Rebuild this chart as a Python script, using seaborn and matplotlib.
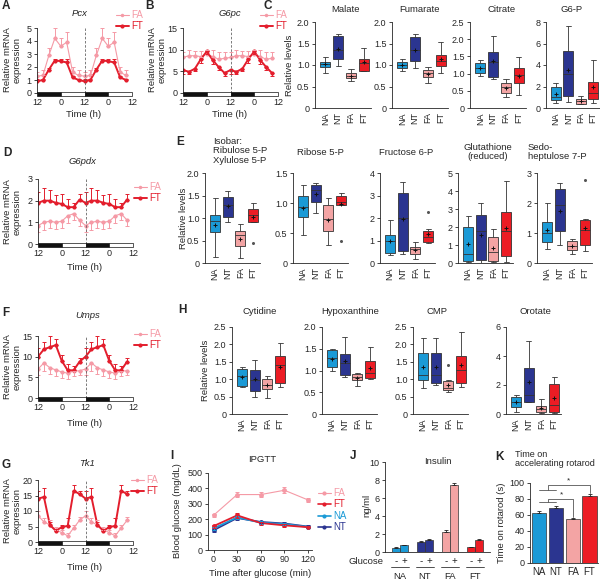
import numpy as np
import pandas as pd
import matplotlib
matplotlib.use("Agg")
import matplotlib.pyplot as plt
import seaborn as sns
from matplotlib.lines import Line2D
from matplotlib.patches import Rectangle
from matplotlib.ticker import FuncFormatter
from matplotlib.transforms import blended_transform_factory

sns.set_style("ticks")
plt.rcParams["font.family"] = ["Liberation Sans", "DejaVu Sans"]
plt.rcParams.update({
    "font.size": 6.5, "axes.linewidth": 0.6,
    "xtick.major.width": 0.6, "ytick.major.width": 0.6,
    "xtick.major.size": 2, "ytick.major.size": 2.5,
    "xtick.major.pad": 1.5, "ytick.major.pad": 1.5,
    "xtick.labelsize": 6.5, "ytick.labelsize": 6.5,
})

W, H = 600, 580
fig = plt.figure(figsize=(W / 100, H / 100), dpi=100)

NA_C, NT_C, FA_C, FT_C = "#1b9ad6", "#2b3590", "#f3a4a4", "#ec1c24"
FA_LINE, FT_LINE = "#f59aa6", "#e31e2d"
groups = ["NA", "NT", "FA", "FT"]
box_pal = dict(zip(groups, [NA_C, NT_C, FA_C, FT_C]))

# ---- circadian expression (A, B, D, F, G) ----
time_h = [0, 3, 6, 9, 12, 15, 18, 21, 24, 27, 30, 33, 36, 39, 42, 45]

pcx_fa = [1.3, 1.35, 2.9, 4.2, 3.6, 3.9, 1.6, 1.35]
pcx_fa_err = [0.3, 0.4, 0.6, 0.8, 0.6, 0.8, 0.4, 0.4]
pcx_ft = [0.9, 1.0, 1.8, 2.5, 2.45, 2.35, 1.2, 1.0]
pcx_ft_err = [0.15, 0.1, 0.15, 0.1, 0.2, 0.25, 0.1, 0.1]

g6pc_fa = [8.2, 8.6, 8.6, 8.4, 9.0, 8.4, 7.8, 8.0]
g6pc_fa_err = [1.3, 1.3, 1.2, 1.2, 1.0, 1.5, 1.6, 1.5]
g6pc_ft = [5.3, 4.9, 5.6, 7.8, 9.6, 7.6, 6.0, 4.6]
g6pc_ft_err = [0.8, 0.5, 0.6, 0.8, 0.7, 0.9, 0.8, 0.6]

g6pdx_fa = [0.85, 1.0, 1.05, 1.0, 1.05, 1.3, 1.4, 1.1]
g6pdx_fa_err = [0.3, 0.35, 0.3, 0.3, 0.3, 0.35, 0.3, 0.25]
g6pdx_ft = [1.9, 2.0, 2.0, 1.9, 1.85, 1.7, 1.7, 2.05]
g6pdx_ft_err = [0.5, 0.6, 0.5, 0.35, 0.45, 0.4, 0.2, 0.25]

umps_fa = [7.0, 8.5, 7.3, 6.8, 6.3, 6.0, 6.5, 6.6]
umps_fa_err = [1.5, 2.0, 1.5, 1.5, 1.5, 1.5, 1.2, 1.0]
umps_ft = [10.0, 11.8, 12.3, 12.8, 9.0, 6.7, 6.7, 8.8]
umps_ft_err = [2.0, 1.8, 2.8, 1.5, 1.5, 1.5, 1.0, 0.8]

tk1_fa = [8.5, 6.5, 5.5, 4.0, 3.0, 2.0, 4.5, 7.0]
tk1_fa_err = [1.5, 1.2, 1.5, 1.0, 1.0, 0.8, 1.0, 1.0]
tk1_ft = [14.0, 14.5, 5.5, 3.6, 4.8, 5.2, 16.5, 15.5]
tk1_ft_err = [2.5, 3.0, 1.0, 0.5, 0.8, 2.5, 1.8, 1.0]

# ---- metabolite box plots: one list of samples per group (NA, NT, FA, FT) ----
malate = [[0.81, 0.96, 1.02, 1.08, 1.19], [0.98, 1.13, 1.35, 1.67, 1.73],
          [0.62, 0.69, 0.75, 0.81, 0.90], [0.85, 0.87, 1.05, 1.13, 1.40]]
fumarate = [[0.85, 0.94, 1.00, 1.08, 1.15], [0.92, 1.09, 1.35, 1.65, 1.73],
            [0.59, 0.71, 0.81, 0.88, 0.96], [0.82, 0.98, 1.09, 1.23, 1.54]]
citrate = [[0.93, 1.03, 1.17, 1.30, 1.39], [0.84, 0.91, 1.35, 1.63, 2.09],
           [0.32, 0.45, 0.61, 0.74, 0.84], [0.38, 0.72, 0.96, 1.15, 1.49]]
g6p = [[0.46, 0.77, 0.98, 1.94, 2.37], [0.52, 1.08, 3.2, 5.3, 7.6],
       [0.37, 0.40, 0.62, 0.86, 1.14], [0.46, 0.86, 1.38, 2.46, 4.46]]

isobar = [[0.14, 0.68, 0.93, 1.07, 1.44], [0.92, 1.02, 1.30, 1.46, 1.61],
          [0.11, 0.38, 0.63, 0.72, 0.87],
          [0.45, 0.91, 0.92, 1.0, 1.06, 1.12, 1.21, 1.28, 1.34]]
ribose = [[0.46, 0.77, 0.94, 1.11, 1.30], [0.84, 1.02, 1.22, 1.30, 1.33],
          [0.30, 0.54, 0.73, 0.97, 1.08],
          [0.37, 0.97, 0.97, 1.0, 1.02, 1.06, 1.11, 1.13, 1.16]]
fructose = [[0.36, 0.45, 0.99, 1.25, 1.93], [0.40, 0.55, 2.0, 3.1, 3.62],
            [0.18, 0.40, 0.62, 0.69, 0.92],
            [0.87, 0.9, 0.95, 1.05, 1.14, 1.3, 1.44, 1.5, 2.27]]
glutathione = [[0.05, 0.1, 0.5, 2.0, 2.6], [0.02, 0.15, 1.77, 2.65, 3.31],
               [0.05, 0.1, 0.6, 1.47, 1.9], [0.05, 0.4, 1.8, 2.84, 4.53]]
sedo = [[0.46, 0.69, 0.99, 1.36, 2.0], [0.61, 1.08, 1.93, 2.46, 2.66],
        [0.3, 0.43, 0.58, 0.74, 0.8],
        [0.4, 0.5, 0.6, 0.9, 1.1, 1.3, 1.45, 1.46, 2.78]]

cytidine = [[0.77, 0.8, 1.1, 1.3, 1.36], [0.5, 0.67, 0.98, 1.27, 1.55],
            [0.46, 0.72, 0.83, 1.0, 1.09], [0.77, 0.9, 1.41, 1.67, 2.04]]
hypoxanthine = [[1.0, 1.08, 1.28, 1.47, 1.49], [0.85, 0.9, 1.17, 1.38, 1.77],
                [0.64, 0.78, 0.86, 0.92, 0.94], [0.8, 0.83, 0.95, 1.22, 1.54]]
cmp = [[0.74, 0.98, 1.12, 1.74, 2.18], [0.83, 0.9, 1.12, 1.75, 2.18],
       [0.62, 0.64, 0.68, 0.7, 0.75, 0.85, 0.95, 0.97, 1.4],
       [0.78, 0.9, 1.26, 1.67, 2.36]]
orotate = [[0.16, 0.5, 0.84, 1.18, 1.29], [0.8, 0.84, 1.29, 3.2, 5.03],
           [0.1, 0.15, 0.34, 0.55, 1.05], [0.1, 0.16, 0.61, 2.1, 2.54]]

# ---- IPGTT ----
ipgtt_min = [0, 30, 60, 90, 120]
ipgtt_fa = [225, 360, 360, 388, 325]
ipgtt_fa_err = [10, 18, 18, 20, 15]
ipgtt_ft = [155, 225, 175, 160, 148]
ipgtt_ft_err = [10, 15, 10, 10, 8]
ipgtt_na = [140, 212, 178, 168, 150]
ipgtt_na_err = [8, 10, 8, 8, 8]
ipgtt_nt = [128, 208, 182, 172, 152]
ipgtt_nt_err = [10, 10, 8, 8, 8]

# ---- insulin ----
ins_minus = [0.5, 1.1, 2.2, 0.55]
ins_minus_err = [0.05, 0.15, 0.2, 0.05]
ins_plus = [0.75, 1.3, 7.4, 1.3]
ins_plus_err = [0.05, 0.1, 0.25, 0.1]

# ---- rotarod ----
rotarod = [62, 69, 55, 84]
rotarod_err = [2.5, 2.0, 1.0, 2.0]


def px_axes(l, t, r, b):
    return fig.add_axes([l / W, 1 - b / H, (r - l) / W, (b - t) / H])


def ftext(x, y, s, **kw):
    kw.setdefault("ha", "center")
    kw.setdefault("va", "center")
    kw.setdefault("fontsize", 6.8)
    fig.text(x / W, 1 - y / H, s, **kw)


def tick_fmt(step):
    def f(v, pos):
        if abs(v) < 1e-9:
            return "0"
        return f"{v:.1f}" if step < 1 else f"{v:g}"
    return FuncFormatter(f)


def circadian(box, fa, fa_err, ft, ft_err, ymax, ystep, fa_up, ft_up, leg_xy):
    ax = px_axes(*box)
    df = pd.DataFrame({
        "time": time_h * 2,
        "value": fa + fa + ft + ft,
        "line": ["FA"] * 16 + ["FT"] * 16,
    })
    sns.lineplot(data=df, x="time", y="value", hue="line", size="line",
                 sizes={"FA": 0.8, "FT": 1.4},
                 palette={"FA": FA_LINE, "FT": FT_LINE},
                 marker="o", markersize=3, markeredgewidth=0,
                 legend=False, errorbar=None, ax=ax)
    for vals, errs, up, col in [(fa, fa_err, fa_up, FA_LINE), (ft, ft_err, ft_up, FT_LINE)]:
        e = np.array(errs + errs)
        z = np.zeros_like(e)
        ax.errorbar(time_h, vals + vals, yerr=[z, e] if up else [e, z], fmt="none",
                    ecolor=col, elinewidth=0.7, capsize=1.5, capthick=0.7)
    ax.axvline(24, color="#666666", ls=(0, (3, 2)), lw=0.6)
    ax.set_xlim(0, 48)
    ax.set_ylim(0, ymax)
    ax.set_yticks(np.arange(0, ymax + 0.01, ystep))
    ax.yaxis.set_major_formatter(tick_fmt(ystep))
    ax.set_xticks([0, 12, 24, 36, 48], ["12", "0", "12", "0", "12"])
    ax.tick_params(axis="x", length=0, pad=3.5)
    ax.set_xlabel("")
    ax.set_ylabel("")
    sns.despine(ax=ax, bottom=True)
    tr = blended_transform_factory(ax.transData, ax.transAxes)
    for x0, c in [(0, "#111111"), (12, "white"), (24, "#111111"), (36, "white")]:
        ax.add_patch(Rectangle((x0, -0.05), 12, 0.07, transform=tr, facecolor=c,
                               edgecolor="#111111", lw=0.5, clip_on=False, zorder=5))
    handles = [Line2D([], [], color=FA_LINE, lw=0.8, marker="o", ms=2.5, mew=0),
               Line2D([], [], color=FT_LINE, lw=1.4, marker="o", ms=3, mew=0)]
    ax.legend(handles, ["FA", "FT"], loc="upper left", frameon=False,
              bbox_to_anchor=(leg_xy[0] / W, 1 - leg_xy[1] / H),
              bbox_transform=fig.transFigure, handlelength=1.3, handletextpad=0.3,
              labelspacing=0.1, borderaxespad=0, borderpad=0, labelcolor="linecolor",
              fontsize=7)
    return ax


def boxpanel(box, samples, ymax, ystep):
    ax = px_axes(*box)
    df = pd.DataFrame({
        "group": [g for g, s in zip(groups, samples) for _ in s],
        "value": [v for s in samples for v in s],
    })
    sns.boxplot(data=df, x="group", y="value", hue="group", order=groups,
                hue_order=groups, palette=box_pal, saturation=1, legend=False,
                width=0.8, linecolor="#333333", linewidth=0.6, whis=1.5,
                showmeans=True,
                meanprops={"marker": "+", "markeredgecolor": "#111111",
                           "markersize": 3.5, "markeredgewidth": 0.7},
                flierprops={"marker": "o", "markerfacecolor": "#555555",
                            "markeredgecolor": "none", "markersize": 2.2},
                ax=ax)
    ax.set_xlim(-0.8, 3.55)
    ax.set_ylim(0, ymax)
    ax.set_yticks(np.arange(0, ymax + 0.001, ystep))
    ax.yaxis.set_major_formatter(tick_fmt(ystep))
    ax.tick_params(axis="x", rotation=90, length=0, pad=3)
    ax.set_xlabel("")
    ax.set_ylabel("")
    sns.despine(ax=ax)
    return ax


# ---- panels A, B, D, F, G ----
circadian((37, 28, 132, 93), pcx_fa, pcx_fa_err, pcx_ft, pcx_ft_err, 5, 1, True, True, (116, 10))
circadian((183, 28, 278, 93), g6pc_fa, g6pc_fa_err, g6pc_ft, g6pc_ft_err, 15, 5, True, False, (260, 10))
circadian((38, 179, 133, 244), g6pdx_fa, g6pdx_fa_err, g6pdx_ft, g6pdx_ft_err, 3, 1, False, True, (134, 182))
circadian((38, 336, 133, 398), umps_fa, umps_fa_err, umps_ft, umps_ft_err, 15, 5, False, True, (134, 329))
circadian((38, 480, 133, 542), tk1_fa, tk1_fa_err, tk1_ft, tk1_ft_err, 20, 5, True, True, (131, 475))

for x, y, name in [(80, 13, "Pcx"), (230, 13, "G6pc"), (82, 162, "G6pdx"),
                   (88, 316, "Umps"), (87, 464, "Tk1")]:
    ftext(x, y, name, style="italic")
for x, y in [(12, 60), (157, 60), (12, 212), (12, 367), (12, 511)]:
    ftext(x, y, "Relative mRNA\nexpression", rotation=90, linespacing=1.1)
for x, y in [(84, 114), (230, 114), (85, 268), (85, 423), (85, 568)]:
    ftext(x, y, "Time (h)")

# ---- panel C ----
boxpanel((315, 22, 371, 108), malate, 2.0, 0.5)
boxpanel((392, 22, 448, 108), fumarate, 2.0, 0.5)
boxpanel((470, 22, 526, 108), citrate, 2.5, 0.5)
boxpanel((546, 22, 600, 108), g6p, 8, 2)
for x, name in [(345, "Malate"), (420, "Fumarate"), (502, "Citrate"), (572, "G6-P")]:
    ftext(x, 10, name)
ftext(290, 65, "Relative levels", rotation=90)

# ---- panel E ----
boxpanel((205, 173, 260, 263), isobar, 2.0, 0.5)
boxpanel((293, 173, 348, 263), ribose, 1.5, 0.5)
boxpanel((380, 173, 435, 263), fructose, 4, 1)
boxpanel((458, 173, 513, 263), glutathione, 5, 1)
boxpanel((537, 173, 592, 263), sedo, 3, 1)
ftext(213, 137, "Isobar:\nRibulose 5-P\nXylulose 5-P", ha="left", va="top", linespacing=1.05)
ftext(320, 152, "Ribose 5-P")
ftext(406, 152, "Fructose 6-P")
ftext(488, 152, "Glutathione\n(reduced)", linespacing=1.1)
ftext(528, 152, "Sedo-\nheptulose 7-P", ha="left", linespacing=1.1)
ftext(183, 218, "Relative levels", rotation=90)

# ---- panel H ----
boxpanel((232, 327, 287, 414), cytidine, 2.5, 0.5)
boxpanel((322, 327, 377, 414), hypoxanthine, 2.0, 0.5)
boxpanel((413, 327, 468, 414), cmp, 2.5, 0.5)
boxpanel((506, 327, 561, 414), orotate, 6, 2)
for x, name in [(260, "Cytidine"), (350, "Hypoxanthine"), (437, "CMP"), (535, "Orotate")]:
    ftext(x, 312, name)
ftext(205, 370, "Relative levels", rotation=90)

# ---- panel I ----
axI = px_axes(208, 473, 312, 550)
gtt = pd.DataFrame({
    "min": ipgtt_min * 4,
    "glucose": ipgtt_fa + ipgtt_ft + ipgtt_na + ipgtt_nt,
    "group": ["FA"] * 5 + ["FT"] * 5 + ["NA"] * 5 + ["NT"] * 5,
})
gtt_pal = {"FA": FA_LINE, "FT": FT_LINE, "NA": NA_C, "NT": NT_C}
sns.lineplot(data=gtt, x="min", y="glucose", hue="group", size="group",
             sizes={"FA": 0.8, "FT": 1.3, "NA": 1.3, "NT": 1.3},
             hue_order=["NT", "NA", "FA", "FT"], palette=gtt_pal,
             marker="o", markersize=3.5, markeredgewidth=0, legend=False,
             errorbar=None, ax=axI)
for vals, errs, g in [(ipgtt_nt, ipgtt_nt_err, "NT"), (ipgtt_na, ipgtt_na_err, "NA"),
                      (ipgtt_fa, ipgtt_fa_err, "FA"), (ipgtt_ft, ipgtt_ft_err, "FT")]:
    axI.errorbar(ipgtt_min, vals, yerr=errs, fmt="none", ecolor=gtt_pal[g],
                 elinewidth=0.7, capsize=1.5, capthick=0.7)
axI.set_xlim(-7, 125)
axI.set_ylim(0, 500)
axI.set_xticks(ipgtt_min)
axI.set_yticks([0, 100, 200, 300, 400, 500])
axI.set_xlabel("")
axI.set_ylabel("")
sns.despine(ax=axI)
hI = [Line2D([], [], color=gtt_pal[g], lw=1.2 if g != "FA" else 0.8, marker="o", ms=3, mew=0)
      for g in ["FA", "FT", "NA", "NT"]]
axI.legend(hI, ["FA", "FT", "NA", "NT"], loc="upper left", frameon=False,
           bbox_to_anchor=(318 / W, 1 - 488 / H), bbox_transform=fig.transFigure,
           handlelength=1.3, handletextpad=0.3, labelspacing=0.15, borderaxespad=0,
           borderpad=0, labelcolor="linecolor", fontsize=7)
ftext(262, 459, "IPGTT")
ftext(177, 511, "Blood glucose (mg/dL)", rotation=90)
ftext(260, 574, "Time after glucose (min)")

# ---- panel J ----
axJ = px_axes(385, 462, 490, 552)
ins = pd.DataFrame({
    "group": groups * 2,
    "glucose": ["-"] * 4 + ["+"] * 4,
    "ng": ins_minus + ins_plus,
})
sns.barplot(data=ins, x="group", y="ng", hue="glucose", order=groups,
            hue_order=["-", "+"], errorbar=None, width=0.64, legend=False,
            edgecolor="#333333", linewidth=0.5, ax=axJ)
err_lookup = {"-": ins_minus_err, "+": ins_plus_err}
tick_pos, tick_lab = [], []
for p in axJ.patches:
    cx = p.get_x() + p.get_width() / 2
    gi = int(round(cx))
    sign = "-" if cx < gi else "+"
    p.set_facecolor(box_pal[groups[gi]])
    e = err_lookup[sign][gi]
    axJ.errorbar(cx, p.get_height(), yerr=[[0], [e]], fmt="none", ecolor="#222222",
                 elinewidth=0.6, capsize=1.5, capthick=0.6)
    tick_pos.append(cx)
    tick_lab.append(sign)
axJ.set_xticks(tick_pos, tick_lab)
axJ.tick_params(axis="x", length=0, pad=3, labelsize=7)
axJ.set_xlim(-0.6, 3.6)
axJ.set_ylim(0, 10)
axJ.set_yticks([0, 2, 4, 6, 8, 10])
axJ.set_xlabel("")
axJ.set_ylabel("")
sns.despine(ax=axJ)
trJ = blended_transform_factory(axJ.transData, axJ.transAxes)
for gi, g in enumerate(groups):
    axJ.plot([gi - 0.35, gi + 0.35], [-0.17, -0.17], color="#333333", lw=0.6,
             transform=trJ, clip_on=False)
    axJ.text(gi, -0.27, g, transform=trJ, ha="center", va="center", fontsize=6.8)
axJ.text(-0.65, -0.11, "Glucose", transform=trJ, ha="right", va="center", fontsize=6.8)
ftext(438, 462, "Insulin")
ftext(367, 505, "ng/ml", rotation=90)

# ---- panel K ----
axK = px_axes(530, 483, 598, 563)
sns.barplot(x=groups, y=rotarod, hue=groups, palette=box_pal, saturation=1,
            errorbar=None, width=0.85, legend=False, edgecolor="#333333",
            linewidth=0.5, ax=axK)
for p in axK.patches:
    cx = p.get_x() + p.get_width() / 2
    gi = int(round(cx))
    axK.errorbar(cx, p.get_height(), yerr=[[0], [rotarod_err[gi]]], fmt="none",
                 ecolor="#222222", elinewidth=0.6, capsize=1.5, capthick=0.6)
axK.set_xlim(-0.55, 3.5)
axK.set_ylim(0, 100)
axK.set_yticks([0, 20, 40, 60, 80, 100])
axK.tick_params(axis="x", length=0, pad=3, labelsize=7)
axK.set_xlabel("")
axK.set_ylabel("")
sns.despine(ax=axK)
bk = dict(color="#555555", lw=0.6, clip_on=False)
axK.plot([0, 1], [91, 91], **bk)
axK.plot([0.5, 0.5, 3, 3], [91, 97, 97, 87], **bk)
axK.text(1.75, 98.5, "*", ha="center", va="bottom", fontsize=6)
axK.plot([0, 1], [76, 76], **bk)
axK.plot([0.5, 0.5, 2, 2], [76, 80, 80, 58], **bk)
axK.text(1.3, 81, "*", ha="center", va="bottom", fontsize=6)
ftext(515, 459, "Time on\naccelerating rotarod", ha="left", linespacing=1.1, fontsize=6.5)
ftext(501, 523, "Time on rotarod (s)", rotation=90)

# ---- panel letters ----
for x, y, s in [(6, 6, "A"), (150, 6, "B"), (268, 6, "C"), (7, 153, "D"), (180, 142, "E"),
                (6, 313, "F"), (6, 465, "G"), (182, 310, "H"), (172, 456, "I"),
                (353, 456, "J"), (500, 457, "K")]:
    ftext(x, y, s, fontsize=8.5, fontweight="bold")

fig.savefig("out.png", dpi=100)
